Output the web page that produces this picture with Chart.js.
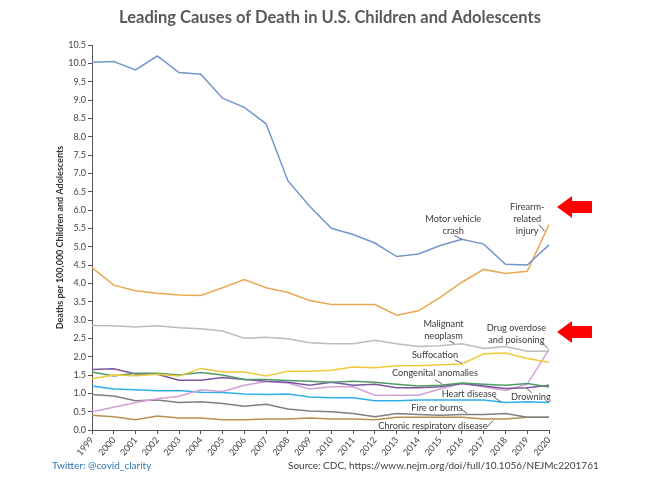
<!DOCTYPE html>
<html>
<head>
<meta charset="utf-8">
<script src="https://cdn.jsdelivr.net/npm/chart.js@4/dist/chart.umd.min.js"></script>
<style>
  html, body { margin: 0; padding: 0; background: #fff; }
  #wrap { width: 649px; height: 484px; }
</style>
</head>
<body>
<div id="wrap"><canvas id="deathChart" width="649" height="484"></canvas></div>
<script>
// years on the x axis
const years = ['1999','2000','2001','2002','2003','2004','2005','2006','2007','2008','2009',
  '2010','2011','2012','2013','2014','2015','2016','2017','2018','2019','2020'];

// deaths per 100,000
const motorVehicle = [10.03,10.05,9.82,10.2,9.75,9.7,9.05,8.8,8.35,6.8,6.1,5.5,5.33,5.1,4.73,4.8,5.03,5.2,5.07,4.52,4.5,5.05];
const firearm      = [4.43,3.95,3.8,3.73,3.68,3.67,3.88,4.1,3.88,3.75,3.53,3.42,3.42,3.42,3.13,3.25,3.62,4.03,4.38,4.27,4.33,5.6];
const malignant    = [2.85,2.84,2.81,2.84,2.79,2.76,2.7,2.5,2.53,2.49,2.38,2.35,2.35,2.45,2.35,2.28,2.3,2.35,2.22,2.28,2.15,2.15];
const suffocation  = [1.4,1.5,1.48,1.52,1.47,1.68,1.58,1.58,1.47,1.6,1.6,1.63,1.72,1.7,1.75,1.75,1.78,1.8,2.08,2.1,1.95,1.85];
const congenital   = [1.58,1.47,1.55,1.55,1.5,1.57,1.5,1.38,1.38,1.35,1.33,1.3,1.33,1.3,1.25,1.2,1.22,1.28,1.25,1.22,1.27,1.17];
const drowning     = [1.65,1.67,1.53,1.52,1.36,1.36,1.43,1.38,1.33,1.3,1.22,1.3,1.22,1.25,1.15,1.15,1.18,1.27,1.2,1.13,1.15,1.22];
const drugOverdose = [0.5,0.62,0.75,0.85,0.92,1.1,1.05,1.22,1.32,1.28,1.12,1.18,1.18,0.95,0.95,0.95,1.12,1.27,1.18,1.08,1.25,2.2];
const heartDisease = [1.2,1.12,1.1,1.07,1.08,1.03,1.02,0.98,0.97,0.98,0.9,0.88,0.88,0.8,0.8,0.82,0.82,0.82,0.82,0.75,0.77,0.75];
const fireBurns    = [0.97,0.93,0.8,0.82,0.75,0.77,0.72,0.65,0.7,0.57,0.52,0.5,0.45,0.36,0.45,0.42,0.4,0.42,0.42,0.45,0.35,0.35];
const chronicResp  = [0.4,0.36,0.28,0.38,0.33,0.33,0.28,0.28,0.3,0.3,0.33,0.3,0.3,0.28,0.35,0.35,0.35,0.35,0.3,0.3,0.35,0.35];

const FONT = 'Lato, "Open Sans", sans-serif';

function series(label, data, color) {
  return { label, data, borderColor: color, backgroundColor: color, borderWidth: 1.5,
    pointRadius: 0, tension: 0, fill: false };
}

// label text lines with a short leader line (in data coords: year index, value)
const callouts = [
  { lines: ['Motor vehicle', 'crash'], x: 16.6, y: 5.75, from: [16.65, 5.3], to: [17, 5.2] },
  { lines: ['Firearm-', 'related', 'injury'], x: 20.0, y: 6.08, from: [20.55, 5.6], to: [20.8, 5.42] },
  { lines: ['Malignant', 'neoplasm'], x: 16.15, y: 2.89, from: [16.4, 2.43], to: [16.65, 2.36] },
  { lines: ['Drug overdose', 'and poisoning'], x: 19.5, y: 2.77, from: [20.65, 2.4], to: [20.95, 2.22] },
  { lines: ['Suffocation'], x: 15.76, y: 2.05, from: [16.68, 1.91], to: [17.0, 1.82] },
  { lines: ['Congenital anomalies'], x: 15.76, y: 1.55, from: [15.76, 1.37], to: [16.08, 1.26] },
  { lines: ['Heart disease'], x: 17.33, y: 0.98, from: [18.47, 0.9], to: [18.8, 0.76] },
  { lines: ['Drowning'], x: 20.17, y: 0.9, from: [19.95, 1.15], to: [20.2, 1.02] },
  { lines: ['Fire or burns'], x: 15.85, y: 0.6, from: [17.0, 0.55], to: [17.23, 0.46] },
  { lines: ['Chronic respiratory disease'], x: 15.67, y: 0.11, from: [18.15, 0.08], to: [18.43, 0.25] }
];

const decorations = {
  id: 'decorations',
  afterDraw(chart) {
    const ctx = chart.ctx;
    const xs = chart.scales.x, ys = chart.scales.y;
    const area = chart.chartArea;
    ctx.save();

    // title
    ctx.fillStyle = '#595959';
    ctx.font = 'bold 16.5px ' + FONT;
    ctx.textAlign = 'center';
    ctx.textBaseline = 'middle';
    ctx.fillText('Leading Causes of Death in U.S. Children and Adolescents', 330, 18);

    // y axis title
    ctx.save();
    ctx.translate(60, (area.top + area.bottom) / 2);
    ctx.rotate(-Math.PI / 2);
    ctx.fillStyle = '#333';
    ctx.font = 'bold 9px ' + FONT;
    ctx.fillText('Deaths per 100,000 Children and Adolescents', 0, 0);
    ctx.restore();

    // callouts
    ctx.font = '9.2px ' + FONT;
    ctx.fillStyle = '#3a3a3a';
    ctx.strokeStyle = '#3a3a3a';
    ctx.lineWidth = 0.8;
    callouts.forEach(c => {
      const px = xs.getPixelForValue(c.x);
      const py = ys.getPixelForValue(c.y);
      c.lines.forEach((t, i) => ctx.fillText(t, px, py + i * 12));
      ctx.beginPath();
      ctx.moveTo(xs.getPixelForValue(c.from[0]), ys.getPixelForValue(c.from[1]));
      ctx.lineTo(xs.getPixelForValue(c.to[0]), ys.getPixelForValue(c.to[1]));
      ctx.stroke();
    });

    // red arrows pointing at firearm and drug labels
    ctx.fillStyle = '#ff0000';
    [6.08, 2.67].forEach(v => {
      const cy = ys.getPixelForValue(v);
      const tip = area.right + 8;
      ctx.beginPath();
      ctx.moveTo(tip, cy);
      ctx.lineTo(tip + 15, cy - 11);
      ctx.lineTo(tip + 15, cy - 6);
      ctx.lineTo(tip + 35, cy - 6);
      ctx.lineTo(tip + 35, cy + 6);
      ctx.lineTo(tip + 15, cy + 6);
      ctx.lineTo(tip + 15, cy + 11);
      ctx.closePath();
      ctx.fill();
    });

    // footer
    ctx.textAlign = 'left';
    ctx.font = '10px ' + FONT;
    ctx.fillStyle = '#2e74b5';
    ctx.fillText('Twitter: @covid_clarity', 52, 466);
    ctx.fillStyle = '#404040';
    ctx.fillText('Source: CDC, https://www.nejm.org/doi/full/10.1056/NEJMc2201761', 288, 466);
    ctx.restore();
  }
};

new Chart(document.getElementById('deathChart'), {
  type: 'line',
  data: {
    labels: years,
    datasets: [
      series('Motor vehicle crash', motorVehicle, '#7197cc'),
      series('Firearm-related injury', firearm, '#e9a854'),
      series('Malignant neoplasm', malignant, '#bcbcbc'),
      series('Suffocation', suffocation, '#f0c93a'),
      series('Congenital anomalies', congenital, '#4f9a68'),
      series('Drowning', drowning, '#7b559f'),
      series('Drug overdose and poisoning', drugOverdose, '#d3a0d6'),
      series('Heart disease', heartDisease, '#2cb0e8'),
      series('Fire or burns', fireBurns, '#808080'),
      series('Chronic respiratory disease', chronicResp, '#b8904f')
    ]
  },
  options: {
    responsive: false,
    animation: false,
    layout: { padding: { left: 0, right: 100, top: 45, bottom: 0 } },
    plugins: {
      legend: { display: false },
      title: { display: false },
      tooltip: { enabled: false }
    },
    scales: {
      x: {
        offset: false,
        grid: { drawOnChartArea: false, tickLength: 4, color: '#555' },
        border: { color: '#555' },
        ticks: { color: '#444', font: { family: FONT, size: 9 }, minRotation: 50, maxRotation: 50, autoSkip: false, padding: 1 },
        afterFit: s => { s.height = 54; }
      },
      y: {
        min: 0, max: 10.5,
        grid: { drawOnChartArea: false, tickLength: 4, color: '#555' },
        border: { color: '#555' },
        ticks: { stepSize: 0.5, color: '#444', font: { family: FONT, size: 9 }, padding: 2,
          callback: v => v.toFixed(1) },
        afterFit: s => { s.width = 92; }
      }
    }
  },
  plugins: [decorations]
});
</script>
</body>
</html>
